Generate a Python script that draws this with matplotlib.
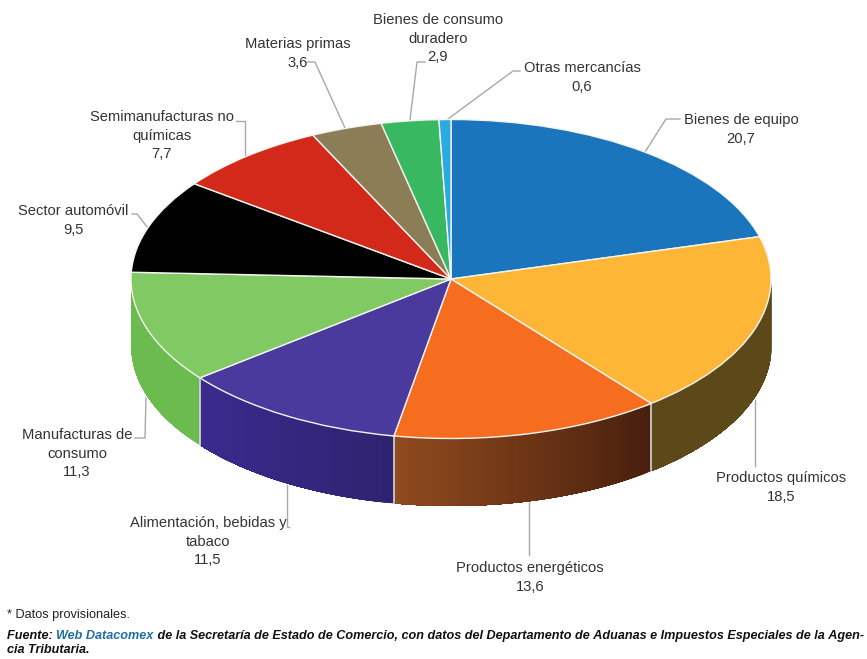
import numpy as np
import matplotlib
matplotlib.use("Agg")
import matplotlib.pyplot as plt
from matplotlib.colors import to_rgb

W, H = 867, 659
CX, CY = 451, 279   # pie centre, pixels
RX, RY = 320, 159.5 # pie radii, pixels
DEPTH = 67 / RY     # wall height, in axis units

categories = ["Bienes de equipo", "Productos químicos", "Productos energéticos",
              "Alimentación, bebidas y\ntabaco", "Manufacturas de\nconsumo",
              "Sector automóvil", "Semimanufacturas no\nquímicas", "Materias primas",
              "Bienes de consumo\nduradero", "Otras mercancías"]
values = [20.7, 18.5, 13.6, 11.5, 11.3, 9.5, 7.7, 3.6, 2.9, 0.6]

top_colors = ["#1a75bc", "#fdb636", "#f76d20", "#4a3a9e", "#80c963",
              "#000000", "#d2291a", "#8b7d55", "#37b861", "#29abe2"]
# wall colours, left end and right end of each slice as seen from the front
wall_colors = {1: ("#5c4818", "#5c4818"), 2: ("#8f4a1e", "#481f0d"),
               3: ("#3b2a90", "#2f2370"), 4: ("#6cbb4f", "#6cbb4f")}

# label anchors (centre x, top y of first line) in pixels
label_pos = [(741, 113), (781, 471), (530, 561), (208, 516), (77, 428),
             (73, 204), (162, 110), (298, 37), (438, 13), (582, 61)]
leaders = [[(680, 119), (666, 119), (645, 152)],
           [(755, 466), (755, 400)],
           [(529, 555), (529, 503)],
           [(289, 527), (287, 527), (287, 485)],
           [(135, 438), (145, 438), (146, 398)],
           [(132, 214), (137, 214), (148, 228)],
           [(236, 121), (245, 121), (245, 157)],
           [(308, 62), (315, 62), (345, 128)],
           [(425, 62), (417, 62), (410, 120)],
           [(520, 71), (513, 71), (448, 119)]]

fig = plt.figure(figsize=(W / 100, H / 100), dpi=100)
ax = fig.add_axes([0, 0, 1, 1])

# side walls first, the top goes over them
total = sum(values)
edges = np.cumsum([0] + values) / total * 2 * np.pi
for i, (c_left, c_right) in wall_colors.items():
    t0, t1 = max(edges[i], np.pi / 2), min(edges[i + 1], 3 * np.pi / 2)
    ts = np.linspace(t0, t1, 60)
    c_a, c_b = np.array(to_rgb(c_right)), np.array(to_rgb(c_left))
    # each step paints to the end of the slice, so no seams show between steps
    for j in range(len(ts) - 1):
        tt = ts[j:]
        f = j / (len(ts) - 2)
        ax.fill_between(np.sin(tt), np.cos(tt) - DEPTH, np.cos(tt),
                        color=c_a * (1 - f) + c_b * f, linewidth=0, zorder=1)
    if t0 > np.pi / 2:
        ax.plot([np.sin(t0)] * 2, [np.cos(t0), np.cos(t0) - DEPTH],
                color="#d8d8d8", lw=1.2, zorder=2)

ax.pie(values, colors=top_colors, startangle=90, counterclock=False, radius=1,
       wedgeprops=dict(edgecolor="#f4f4f0", linewidth=1.0, zorder=3))

ax.set_aspect("auto")
ax.set_xlim(-CX / RX, (W - CX) / RX)
ax.set_ylim((CY - H) / RY, CY / RY)
ax.axis("off")

px = lambda x: (x - CX) / RX
py = lambda y: (CY - y) / RY

for pts in leaders:
    ax.plot([px(p[0]) for p in pts], [py(p[1]) for p in pts],
            color="#a8a8a8", lw=1.0, zorder=0.5)

for name, val, (x, y) in zip(categories, values, label_pos):
    txt = name + "\n" + f"{val:.1f}".replace(".", ",")
    ax.text(px(x), py(y), txt, ha="center", va="top", family="Liberation Sans",
            fontsize=10.6, color="#333333", linespacing=1.41, zorder=5)

# footer
ax.text(px(7), py(615), "* Datos provisionales.", family="Liberation Sans",
        fontsize=9.2, color="#222222", va="center")
fkw = dict(family="Liberation Sans", fontsize=9.1, weight="bold", style="italic", va="center")
renderer = fig.canvas.get_renderer()
x = 7
for piece, col in [("Fuente: ", "#111111"), ("Web Datacomex", "#1f6f9f"),
                   (" de la Secretaría de Estado de Comercio, con datos del Departamento de Aduanas e Impuestos Especiales de la Agen-", "#111111")]:
    t = ax.text(px(x), py(636), piece.replace(" ", "\u00a0"), color=col, **fkw)
    x = t.get_window_extent(renderer).x1
ax.text(px(7), py(650), "cia Tributaria.", color="#111111", **fkw)

fig.savefig("out.png", dpi=100, facecolor="white")
